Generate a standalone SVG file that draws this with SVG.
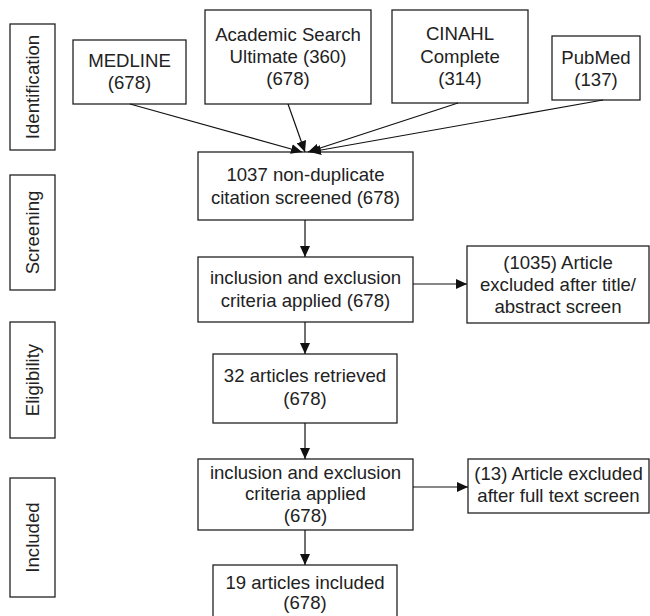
<svg xmlns="http://www.w3.org/2000/svg" width="650" height="616" viewBox="0 0 650 616">
<defs>
<marker id="ah" markerUnits="userSpaceOnUse" markerWidth="12" markerHeight="10" refX="11" refY="5" orient="auto">
<path d="M0,0 L11,5 L0,10 Z" fill="#111"/>
</marker>
<style>
rect{fill:#fff;stroke:#222;stroke-width:1.3}
text{font-family:"Liberation Sans",Arial,sans-serif;font-size:18.6px;fill:#222;text-anchor:middle}
#connectors line{stroke:#111;stroke-width:1.2;marker-end:url(#ah)}
</style>
</defs>
<rect x="0" y="0" width="650" height="616" style="stroke:none"/>
<g id="stage-identification"><rect x="10" y="24" width="45" height="126"/><text transform="translate(39,87) rotate(-90)">Identification</text></g>
<g id="stage-screening"><rect x="10" y="175" width="45" height="115"/><text transform="translate(39,232.5) rotate(-90)">Screening</text></g>
<g id="stage-eligibility"><rect x="10" y="322" width="45" height="116"/><text transform="translate(39,380) rotate(-90)">Eligibility</text></g>
<g id="stage-included"><rect x="10" y="478" width="45" height="119"/><text transform="translate(39,537.5) rotate(-90)">Included</text></g>

<g id="medline"><rect x="73" y="40" width="113" height="64"/><text x="129.5" y="66.5">MEDLINE</text><text x="129.5" y="88.5">(678)</text></g>
<g id="academic"><rect x="205" y="10" width="166" height="94"/><text x="288" y="41">Academic Search</text><text x="288" y="63">Ultimate (360)</text><text x="288" y="85">(678)</text></g>
<g id="cinahl"><rect x="392" y="10" width="136" height="93"/><text x="460" y="40">CINAHL</text><text x="460" y="62.5">Complete</text><text x="460" y="85">(314)</text></g>
<g id="pubmed"><rect x="552" y="36" width="88" height="64"/><text x="596" y="63.5">PubMed</text><text x="596" y="85.5">(137)</text></g>

<g id="screened"><rect x="198" y="152" width="215" height="68"/><text x="305.5" y="181">1037 non-duplicate</text><text x="305.5" y="203.5">citation screened (678)</text></g>
<g id="criteria1"><rect x="198" y="257" width="215" height="65"/><text x="305.5" y="284">inclusion and exclusion</text><text x="305.5" y="306.5">criteria applied (678)</text></g>
<g id="excluded1"><rect x="467" y="246" width="182" height="77"/><text x="558" y="268.5">(1035) Article</text><text x="558" y="290.5">excluded after title/</text><text x="558" y="312.5">abstract screen</text></g>
<g id="retrieved"><rect x="213" y="354" width="184" height="69"/><text x="305" y="382">32 articles retrieved</text><text x="305" y="404.5">(678)</text></g>
<g id="criteria2"><rect x="198" y="459" width="215" height="71"/><text x="305.5" y="478.5">inclusion and exclusion</text><text x="305.5" y="500">criteria applied</text><text x="305.5" y="522">(678)</text></g>
<g id="excluded2"><rect x="468" y="459" width="181" height="54"/><text x="558.5" y="479.5">(13) Article excluded</text><text x="558.5" y="501.5">after full text screen</text></g>
<g id="included"><rect x="213" y="565" width="184" height="60"/><text x="305" y="588.5">19 articles included</text><text x="305" y="609">(678)</text></g>

<g id="connectors">
<line x1="130" y1="104" x2="302" y2="152"/>
<line x1="288" y1="104" x2="305" y2="152"/>
<line x1="458" y1="103" x2="308" y2="152"/>
<line x1="603" y1="100" x2="310" y2="152"/>
<line x1="305" y1="220" x2="305" y2="257"/>
<line x1="413" y1="284" x2="467" y2="284"/>
<line x1="305" y1="322" x2="305" y2="354"/>
<line x1="305" y1="423" x2="305" y2="459"/>
<line x1="413" y1="487" x2="468" y2="487"/>
<line x1="305" y1="530" x2="305" y2="565"/>
</g>
</svg>
